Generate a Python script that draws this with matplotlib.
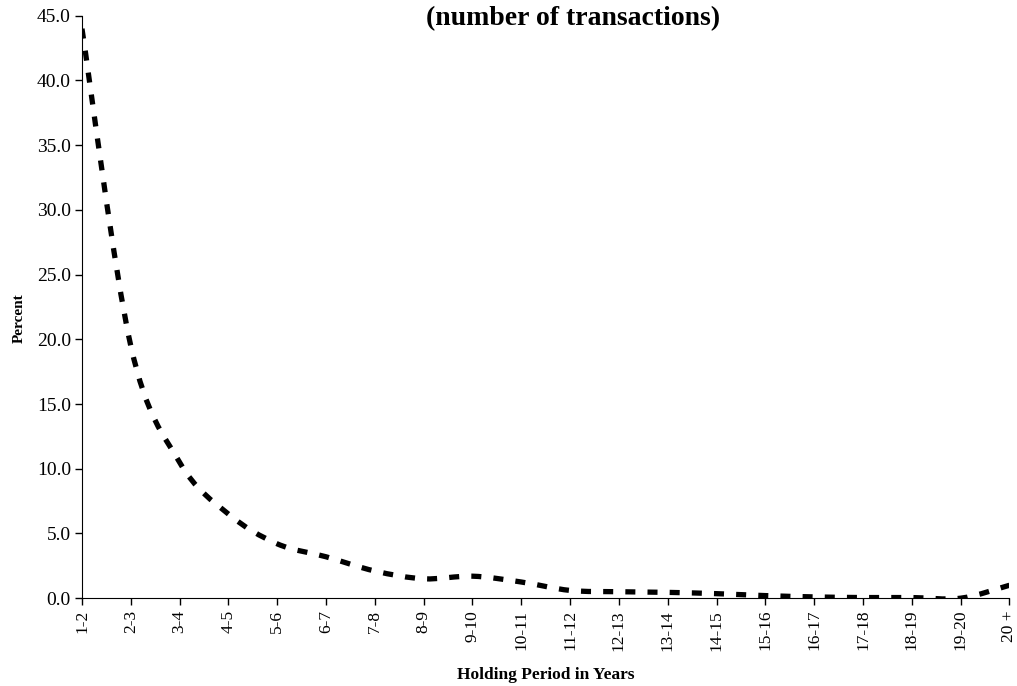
import matplotlib.pyplot as plt
import numpy as np
from matplotlib.path import Path
from matplotlib.patches import PathPatch

plt.rcParams['font.family'] = ['Liberation Serif', 'DejaVu Serif']

periods = ['1-2', '2-3', '3-4', '4-5', '5-6', '6-7', '7-8', '8-9', '9-10', '10-11',
           '11-12', '12-13', '13-14', '14-15', '15-16', '16-17', '17-18', '18-19',
           '19-20', '20 +']
percent = [44.0, 19.5, 10.5, 6.5, 4.2, 3.2, 2.1, 1.5, 1.7, 1.25,
           0.6, 0.5, 0.45, 0.35, 0.2, 0.1, 0.05, 0.05, 0.0, 1.0]
yticks = [0, 5, 10, 15, 20, 25, 30, 35, 40, 45]

fig = plt.figure(figsize=(10.17, 6.86), dpi=100)
ax = fig.add_axes([0.0806, 0.128, 0.912, 0.849])

# smoothed line like the spreadsheet chart: Catmull-Rom segments as Bezier curves
x = np.arange(len(percent), dtype=float)
y = np.array(percent)
verts = [(x[0], y[0])]
codes = [Path.MOVETO]
for i in range(len(x) - 1):
    p0 = (x[max(i - 1, 0)], y[max(i - 1, 0)])
    p1 = (x[i], y[i])
    p2 = (x[i + 1], y[i + 1])
    p3 = (x[min(i + 2, len(x) - 1)], y[min(i + 2, len(x) - 1)])
    c1 = (p1[0] + (p2[0] - p0[0]) / 6, p1[1] + (p2[1] - p0[1]) / 6)
    c2 = (p2[0] - (p3[0] - p1[0]) / 6, p2[1] - (p3[1] - p1[1]) / 6)
    verts += [c1, c2, p2]
    codes += [Path.CURVE4] * 3
ax.add_patch(PathPatch(Path(verts, codes), fill=False, color='black',
                       lw=3.8, linestyle=(0, (1.9, 2.3)), capstyle='butt'))

ax.set_xlim(0, len(periods) - 1)
ax.set_ylim(0, 45)
ax.set_xticks(x)
ax.set_xticklabels(periods, rotation=90, fontsize=12.5)
ax.set_yticks(yticks)
ax.set_yticklabels(['%.1f' % v for v in yticks], fontsize=14)
ax.tick_params(direction='out', length=5, width=1)
ax.tick_params(axis='y', pad=3)
ax.spines['top'].set_visible(False)
ax.spines['right'].set_visible(False)
ax.set_ylabel('Percent', fontsize=11, fontweight='bold')
ax.yaxis.set_label_coords(-0.061, 0.481)
ax.set_xlabel('Holding Period in Years', fontsize=12.5, fontweight='bold', labelpad=12)
fig.text(0.563, 0.973, '(number of transactions)', fontsize=20, fontweight='bold',
         ha='center', va='center')

fig.savefig('out.png', dpi=100)
